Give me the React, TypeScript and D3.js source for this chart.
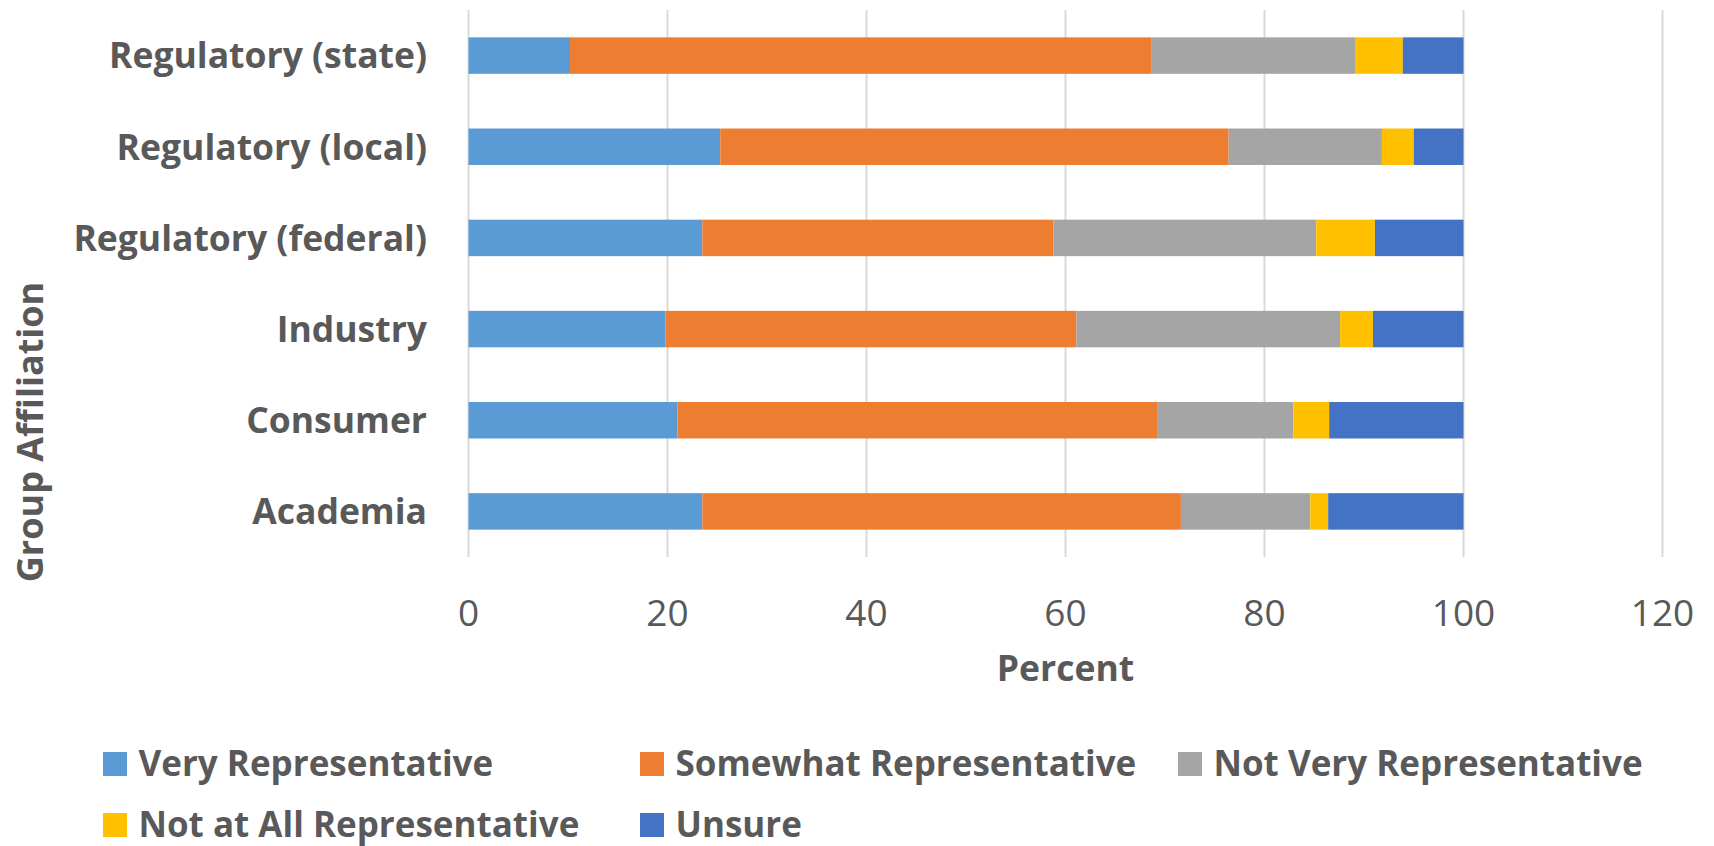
import React from "react";
import * as d3 from "d3";

const categories = [
  "Regulatory (state)",
  "Regulatory (local)",
  "Regulatory (federal)",
  "Industry",
  "Consumer",
  "Academia",
];

const seriesNames = [
  "Very Representative",
  "Somewhat Representative",
  "Not Very Representative",
  "Not at All Representative",
  "Unsure",
];

const seriesColors = ["#5B9BD5", "#ED7D31", "#A5A5A5", "#FFC000", "#4472C4"];

const veryRep = [10.2, 25.3, 23.5, 19.8, 21.0, 23.5];
const somewhatRep = [58.4, 51.1, 35.3, 41.3, 48.2, 48.1];
const notVeryRep = [20.5, 15.4, 26.4, 26.5, 13.7, 13.0];
const notAtAllRep = [4.8, 3.2, 5.9, 3.3, 3.6, 1.8];
const unsure = [6.1, 5.0, 8.9, 9.1, 13.5, 13.6];

const xTicks = [0, 20, 40, 60, 80, 100, 120];

const W = 1714;
const H = 846;
const TEXT = "#595959";
const FONT = "'Open Sans', 'Noto Sans', sans-serif";

export default function App() {
  const seriesValues = [veryRep, somewhatRep, notVeryRep, notAtAllRep, unsure];
  const rows = categories.map((c, i) => {
    const r: Record<string, any> = { cat: c };
    seriesNames.forEach((s, k) => (r[s] = seriesValues[k][i]));
    return r;
  });
  const stack = d3.stack<Record<string, any>>().keys(seriesNames)(rows);

  const x = d3.scaleLinear().domain([0, 120]).range([468.5, 1662.5]);
  const y = d3
    .scaleBand<string>()
    .domain(categories)
    .range([10, 557])
    .paddingInner(0.6)
    .paddingOuter(0.3);

  const legendItems = [
    { name: seriesNames[0], color: seriesColors[0], x: 103, y: 752 },
    { name: seriesNames[1], color: seriesColors[1], x: 640, y: 752 },
    { name: seriesNames[2], color: seriesColors[2], x: 1178, y: 752 },
    { name: seriesNames[3], color: seriesColors[3], x: 103, y: 813 },
    { name: seriesNames[4], color: seriesColors[4], x: 640, y: 813 },
  ];

  return (
    <svg
      width={W}
      height={H}
      style={{ position: "absolute", left: 0, top: 0, background: "#fff" }}
      fontFamily={FONT}
    >
      <rect x={0} y={0} width={W} height={H} fill="#fff" />
      {/* gridlines */}
      {xTicks.map((t) => (
        <line
          key={t}
          x1={x(t)}
          x2={x(t)}
          y1={10}
          y2={557}
          stroke="#D9D9D9"
          strokeWidth={2}
        />
      ))}
      {/* bars */}
      {stack.map((layer, k) => (
        <g key={layer.key} fill={seriesColors[k]}>
          {layer.map((d, i) => (
            <rect
              key={i}
              x={x(d[0])}
              y={y(categories[i])}
              width={x(d[1]) - x(d[0])}
              height={y.bandwidth()}
            />
          ))}
        </g>
      ))}
      {/* category labels */}
      {categories.map((c) => (
        <text
          key={c}
          x={427}
          y={(y(c) ?? 0) + y.bandwidth() / 2}
          dy="0.36em"
          textAnchor="end"
          fontSize={35.5}
          fontWeight="bold"
          fill={TEXT}
        >
          {c}
        </text>
      ))}
      {/* x tick labels */}
      {xTicks.map((t) => (
        <text
          key={t}
          x={x(t)}
          y={626}
          textAnchor="middle"
          fontSize={37}
          fill={TEXT}
        >
          {t}
        </text>
      ))}
      {/* axis titles */}
      <text
        x={x(60)}
        y={681}
        textAnchor="middle"
        fontSize={35.5}
        fontWeight="bold"
        fill={TEXT}
      >
        Percent
      </text>
      <text
        transform="translate(43,432) rotate(-90)"
        textAnchor="middle"
        fontSize={36}
        fontWeight="bold"
        fill={TEXT}
      >
        Group Affiliation
      </text>
      {/* legend */}
      {legendItems.map((l) => (
        <g key={l.name}>
          <rect x={l.x} y={l.y} width={24} height={24} fill={l.color} />
          <text
            x={l.x + 35.5}
            y={l.y + 24}
            fontSize={35}
            fontWeight="bold"
            fill={TEXT}
          >
            {l.name}
          </text>
        </g>
      ))}
    </svg>
  );
}
